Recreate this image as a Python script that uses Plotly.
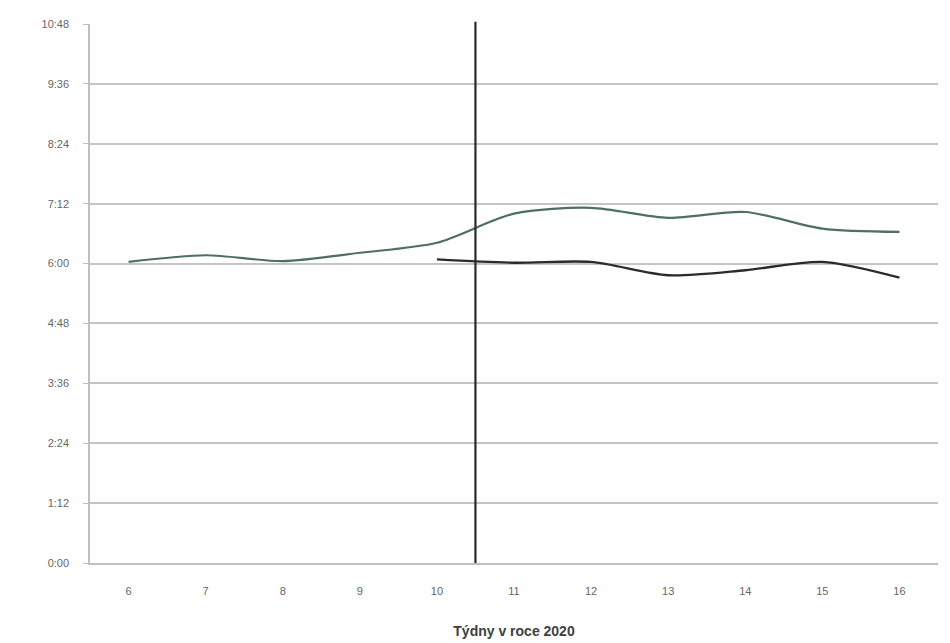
import plotly.graph_objects as go

weeks = [6, 7, 8, 9, 10, 11, 12, 13, 14, 15, 16]
series_a = ["6:02", "6:10", "6:03", "6:13", "6:25", "7:00", "7:07", "6:55", "7:02", "6:42", "6:38"]
weeks_b = [10, 11, 12, 13, 14, 15, 16]
series_b = ["6:05", "6:01", "6:02", "5:46", "5:52", "6:02", "5:43"]
y_ticks = ["0:00", "1:12", "2:24", "3:36", "4:48", "6:00", "7:12", "8:24", "9:36", "10:48"]
x_title = "Týdny v roce 2020"
divider_week = 10.5


def to_min(s):
    h, m = s.split(":")
    return int(h) * 60 + int(m)


fig = go.Figure()
fig.add_trace(go.Scatter(
    x=weeks, y=[to_min(v) for v in series_a], mode="lines",
    line=dict(color="#4f6f60", width=2.2, shape="spline", smoothing=0.8),
    showlegend=False, hoverinfo="skip"))
fig.add_trace(go.Scatter(
    x=weeks_b, y=[to_min(v) for v in series_b], mode="lines",
    line=dict(color="#2e2a2c", width=2.4, shape="spline", smoothing=0.8),
    showlegend=False, hoverinfo="skip"))

fig.add_shape(type="line", x0=divider_week, x1=divider_week, xref="x",
              y0=0, y1=1.004, yref="paper",
              line=dict(color="#2a2a2a", width=2.2))

fig.update_layout(
    width=950, height=643,
    margin=dict(l=90, r=12, t=24, b=80),
    paper_bgcolor="white", plot_bgcolor="white",
    font=dict(family="Liberation Sans, Arial, sans-serif", color="#595959"),
)
fig.update_xaxes(
    range=[5.5, 16.5], tickvals=weeks, ticktext=[str(w) for w in weeks],
    showgrid=False, zeroline=False, automargin=False,
    showline=True, linecolor="#bfbfbf", linewidth=1.5,
    ticks="", tickfont=dict(size=11, color="#666666"),
    ticklabelstandoff=17,
    title=dict(text="<b>" + x_title + "</b>", font=dict(size=14, color="#404040"), standoff=30),
)
fig.update_yaxes(
    range=[0, 648], tickvals=[to_min(t) for t in y_ticks], ticktext=y_ticks,
    showgrid=True, gridcolor="#c4c4c4", gridwidth=1.5,
    zeroline=False, showline=True, linecolor="#bfbfbf", linewidth=1.5,
    ticks="outside", ticklen=5, tickcolor="#bfbfbf", automargin=False,
    tickfont=dict(size=11, color="#666666"), ticklabelstandoff=12,
)

fig.write_html("out.html")
